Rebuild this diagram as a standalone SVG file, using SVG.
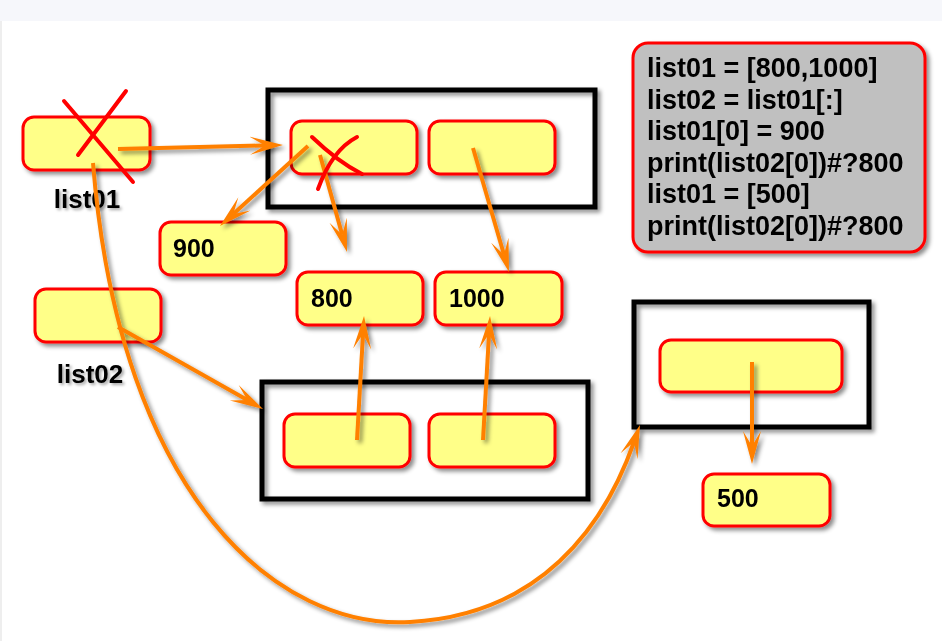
<svg xmlns="http://www.w3.org/2000/svg" width="942" height="641" viewBox="0 0 942 641">
<defs>
<filter id="sh" x="-20%" y="-20%" width="150%" height="150%">
<feDropShadow dx="3" dy="3" stdDeviation="2" flood-color="#000" flood-opacity="0.45"/>
</filter>
<filter id="tsh" x="-20%" y="-20%" width="150%" height="150%">
<feDropShadow dx="2" dy="2" stdDeviation="1.5" flood-color="#000" flood-opacity="0.35"/>
</filter>
<marker id="ah" markerUnits="userSpaceOnUse" markerWidth="40" markerHeight="24" viewBox="0 -12 40 24" refX="15" refY="0" orient="auto">
<path d="M33,0 L0,-9 L15,0 L0,9 Z" fill="#ff8000"/>
</marker>
</defs>
<style>
.cell{fill:#ffff88;stroke:#ff0000;stroke-width:3}
.cont{fill:none;stroke:#000;stroke-width:5}
.arr{fill:none;stroke:#ff8000;stroke-width:4;marker-end:url(#ah)}
.x{fill:none;stroke:#ff0000;stroke-width:4;stroke-linecap:round}
.val{font-family:"Liberation Sans",Arial,sans-serif;font-weight:bold;font-size:25px;fill:#000}
.lbl{font-family:"Liberation Sans",Arial,sans-serif;font-weight:bold;font-size:26px;fill:#000}
.code{font-family:"Liberation Sans",Arial,sans-serif;font-weight:bold;font-size:27px;fill:#000}
</style>
<rect x="0" y="0" width="942" height="641" fill="#ffffff"/>
<rect x="0" y="0" width="942" height="21" fill="#f6f7fb"/>
<rect x="0" y="21" width="2" height="620" fill="#eeeeee"/>

<g id="list01" filter="url(#sh)">
<rect class="cell" x="23" y="117" width="127" height="53" rx="11"/>
</g>
<text class="lbl" x="87" y="208" text-anchor="middle" filter="url(#tsh)">list01</text>

<g id="list02" filter="url(#sh)">
<rect class="cell" x="35" y="289" width="126" height="53" rx="11"/>
</g>
<text class="lbl" x="90" y="383" text-anchor="middle" filter="url(#tsh)">list02</text>

<g id="listA" filter="url(#sh)">
<rect class="cont" x="268" y="90" width="327" height="117"/>
<rect class="cell" x="291" y="121" width="126" height="53" rx="11"/>
<rect class="cell" x="429" y="121" width="126" height="53" rx="11"/>
</g>

<g id="listB" filter="url(#sh)">
<rect class="cont" x="262" y="382" width="326" height="117"/>
<rect class="cell" x="284" y="414" width="126" height="53" rx="11"/>
<rect class="cell" x="429" y="414" width="126" height="53" rx="11"/>
</g>

<g id="listC" filter="url(#sh)">
<rect class="cont" x="634" y="302" width="235" height="125"/>
<rect class="cell" x="660" y="340" width="182" height="52" rx="11"/>
</g>

<g id="v900" filter="url(#sh)">
<rect class="cell" x="160" y="222" width="126" height="53" rx="11"/>
<text class="val" x="173" y="257">900</text>
</g>
<g id="v800" filter="url(#sh)">
<rect class="cell" x="297" y="272" width="126" height="53" rx="11"/>
<text class="val" x="311" y="307">800</text>
</g>
<g id="v1000" filter="url(#sh)">
<rect class="cell" x="435" y="272" width="127" height="53" rx="11"/>
<text class="val" x="449" y="307">1000</text>
</g>
<g id="v500" filter="url(#sh)">
<rect class="cell" x="703" y="474" width="127" height="52" rx="11"/>
<text class="val" x="717" y="507">500</text>
</g>

<g id="code" filter="url(#sh)">
<rect x="633" y="43" width="292" height="209" rx="15" fill="#c0c0c0" stroke="#ff0000" stroke-width="3"/>
<text class="code" x="647" y="77">list01 = [800,1000]</text>
<text class="code" x="647" y="108.6">list02 = list01[:]</text>
<text class="code" x="647" y="140.2">list01[0] = 900</text>
<text class="code" x="647" y="171.8">print(list02[0])#?800</text>
<text class="code" x="647" y="203.4">list01 = [500]</text>
<text class="code" x="647" y="235">print(list02[0])#?800</text>
</g>

<g id="connectors" filter="url(#sh)">
<path class="arr" d="M118,149 L265,145.4"/>
<path class="arr" d="M308,146 L233.3,213.9"/>
<path class="arr" d="M320,155 L342.2,234.7"/>
<path class="arr" d="M473,148 L504,254.7"/>
<path class="arr" d="M118,327 L247.3,400.1"/>
<path class="arr" d="M357,440 L363,334"/>
<path class="arr" d="M483,440 L489,334"/>
<path class="arr" d="M752,362 L752,446"/>
<path class="arr" d="M93,163 C120,500 280,630 410,622 C540,615 604,527 634,442"/>
</g>

<g id="crosses">
<path class="x" d="M64,101 L133,182"/>
<path class="x" d="M126,91 L78,155"/>
<path class="x" d="M312,137 Q338,162 362,174"/>
<path class="x" d="M357,137 Q332,150 318,189"/>
</g>
</svg>
